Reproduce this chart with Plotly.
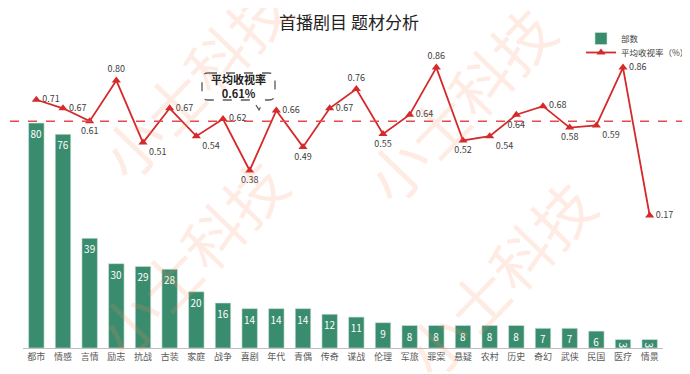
import plotly.graph_objects as go

categories = ["都市", "情感", "言情", "励志", "抗战", "古装", "家庭", "战争", "喜剧", "年代", "青偶", "传奇",
              "谍战", "伦理", "军旅", "罪案", "悬疑", "农村", "历史", "奇幻", "武侠", "民国", "医疗", "情景"]
counts = [80, 76, 39, 30, 29, 28, 20, 16, 14, 14, 14, 12, 11, 9, 8, 8, 8, 8, 8, 7, 7, 6, 3, 3]
ratings = [0.71, 0.67, 0.61, 0.80, 0.51, 0.67, 0.54, 0.62, 0.38, 0.66, 0.49, 0.67,
           0.76, 0.55, 0.64, 0.86, 0.52, 0.54, 0.64, 0.68, 0.58, 0.59, 0.86, 0.17]
avg_rating = 0.61

label_pos = ["middle right", "middle right", "bottom center", "top center", "bottom right", "middle right",
             "bottom right", "middle right", "bottom center", "middle right", "bottom center", "middle right",
             "top center", "bottom center", "middle right", "top center", "bottom center", "bottom right",
             "bottom center", "middle right", "bottom center", "bottom right", "middle right", "middle right"]

W, H = 690, 374
OFF = 8  # page body margin offset of the rendered figure
# plot rectangle in picture pixels
PL, PR, PT, PB = 23, 663, 50, 348
ML, MR, MT, MB = PL - OFF, W - (PR - OFF), PT - OFF, H - (PB - OFF)
PW, PH = PR - PL, PB - PT


def px(x):
    return (x - PL) / PW


def py(y):
    return (PB - y) / PH


FONT = "Noto Sans CJK SC"
GREEN = "#3A8C6F"
RED = "#D42A2C"

fig = go.Figure()
fig.add_trace(go.Bar(
    x=categories, y=counts, name="部数", legend="legend",
    marker=dict(color=GREEN, line=dict(color="#cfe3da", width=0.6)),
    text=[str(v) for v in counts], textposition="inside", insidetextanchor="end",
    constraintext="none",
    textfont=dict(color="white", size=10, family=FONT),
    cliponaxis=False,
))
fig.add_trace(go.Scatter(
    x=categories, y=ratings, name="平均收视率（%）", yaxis="y2", legend="legend2",
    mode="lines+markers+text",
    line=dict(color=RED, width=1.8),
    marker=dict(symbol="triangle-up", size=8, color=RED),
    text=[f"{v:.2f}" for v in ratings], textposition=label_pos,
    textfont=dict(color="#404040", size=9, family=FONT),
    cliponaxis=False,
))

shapes = []
# average dashed line
shapes.append(dict(type="line", xref="paper", yref="y2", x0=px(10), x1=px(682), y0=avg_rating, y1=avg_rating,
                   line=dict(color="#E8494B", width=1.5, dash="dash"), layer="above"))

# callout box (rounded, dashed, with tail)
bx0, bx1, by0, by1, r = 202, 275, 73, 100, 6
tail_a, tail_tip, tail_b = (253, by1), (259, 110), (264, by1)
pts = [
    f"M {px(bx0 + r)},{py(by0)}",
    f"L {px(bx1 - r)},{py(by0)}",
    f"Q {px(bx1)},{py(by0)} {px(bx1)},{py(by0 + r)}",
    f"L {px(bx1)},{py(by1 - r)}",
    f"Q {px(bx1)},{py(by1)} {px(bx1 - r)},{py(by1)}",
    f"L {px(tail_b[0])},{py(tail_b[1])}",
    f"L {px(tail_tip[0])},{py(tail_tip[1])}",
    f"L {px(tail_a[0])},{py(tail_a[1])}",
    f"L {px(bx0 + r)},{py(by1)}",
    f"Q {px(bx0)},{py(by1)} {px(bx0)},{py(by1 - r)}",
    f"L {px(bx0)},{py(by0 + r)}",
    f"Q {px(bx0)},{py(by0)} {px(bx0 + r)},{py(by0)}",
    "Z",
]
shapes.append(dict(type="path", xref="paper", yref="paper", path=" ".join(pts),
                   line=dict(color="#595959", width=1.3, dash="dash"), fillcolor="rgba(255,255,255,0)"))

annotations = []
# watermarks
for cx, cy in [(194, 80), (190, 256), (458, 103), (498, 277)]:
    annotations.append(dict(text="小士科技", xref="paper", yref="paper", x=px(cx), y=py(cy),
                            xanchor="center", yanchor="middle",
                            showarrow=False, textangle=-46,
                            font=dict(size=60, color="rgba(247,140,95,0.17)", family=FONT)))
annotations.append(dict(text="<b>平均收视率</b><br><b>0.61%</b>", xref="paper", yref="paper",
                        x=px((bx0 + bx1) / 2), y=py((by0 + by1) / 2), showarrow=False,
                        xanchor="center", yanchor="middle",
                        font=dict(size=11, color="#222222", family=FONT), align="center"))

legend_common = dict(xanchor="left", yanchor="top", orientation="v",
                     font=dict(size=8.5, color="#404040", family=FONT), bgcolor="rgba(0,0,0,0)",
                     itemwidth=30)

fig.update_layout(
    width=W, height=H,
    margin=dict(l=ML, r=MR, t=MT, b=MB, autoexpand=False),
    paper_bgcolor="white", plot_bgcolor="white",
    title=dict(text="首播剧目 题材分析", x=(349 - OFF) / W, xref="container", xanchor="center",
               y=1 - (23 - OFF) / H, yref="container", yanchor="middle",
               font=dict(size=17, color="#222222", family=FONT)),
    font=dict(family=FONT),
    bargap=0.42,
    showlegend=True,
    legend=dict(x=px(581), y=py(24), **legend_common),
    legend2=dict(x=px(581), y=py(38), **legend_common),
    xaxis=dict(range=[-0.5, len(categories) - 0.5], autorange=False,
               showline=True, linecolor="#BFBFBF", linewidth=1, ticks="", showgrid=False,
               tickfont=dict(size=9, color="#595959", family=FONT), zeroline=False),
    yaxis=dict(range=[0, 106], visible=False, showgrid=False, zeroline=False),
    yaxis2=dict(range=[-0.448, 0.942], overlaying="y", side="right", visible=False,
                showgrid=False, zeroline=False),
    shapes=shapes,
    annotations=annotations,
)

fig.write_html("out.html")
